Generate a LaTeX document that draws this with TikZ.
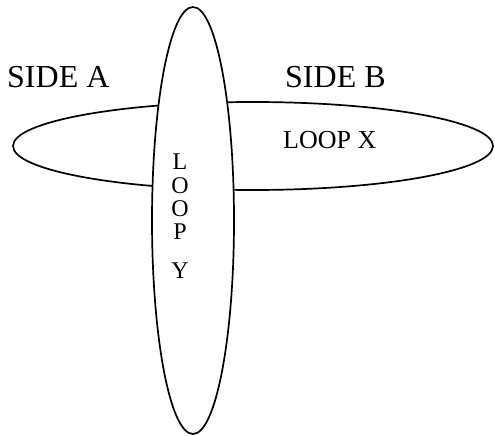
\documentclass[tikz,border=0pt]{standalone}
\usepackage{fontspec}
\setmainfont{Liberation Serif}
\usetikzlibrary{shapes.geometric}
\tikzset{
  loopshape/.style={ellipse, draw=black, line width=1.7pt, inner sep=0pt, fill=white},
  bigtxt/.style={font=\fontsize{32}{32}\selectfont, inner sep=0pt, anchor=base west},
  smalltxt/.style={font=\fontsize{26}{26}\selectfont, inner sep=0pt, anchor=base west},
  lettertxt/.style={font=\fontsize{24}{24}\selectfont, inner sep=0pt, anchor=base}
}
\begin{document}
\begin{tikzpicture}[x=1pt,y=-1pt]
\useasboundingbox (0,0) rectangle (495,436);
\node[loopshape, minimum width=480pt, minimum height=88pt] (loopx) at (253,146) {};
\node[loopshape, minimum width=82pt, minimum height=427pt] (loopy) at (193,220.5) {};
\node[bigtxt] (sidea) at (7,88) {SIDE A};
\node[bigtxt] (sideb) at (285,88) {SIDE B};
\node[smalltxt] (lx) at (283,148) {LOOP X};
\node[lettertxt] (l1) at (180,169) {L};
\node[lettertxt] (l2) at (180,193) {O};
\node[lettertxt] (l3) at (180,216) {O};
\node[lettertxt] (l4) at (180,239) {P};
\node[lettertxt] (l5) at (180,278) {Y};
\end{tikzpicture}
\end{document}
